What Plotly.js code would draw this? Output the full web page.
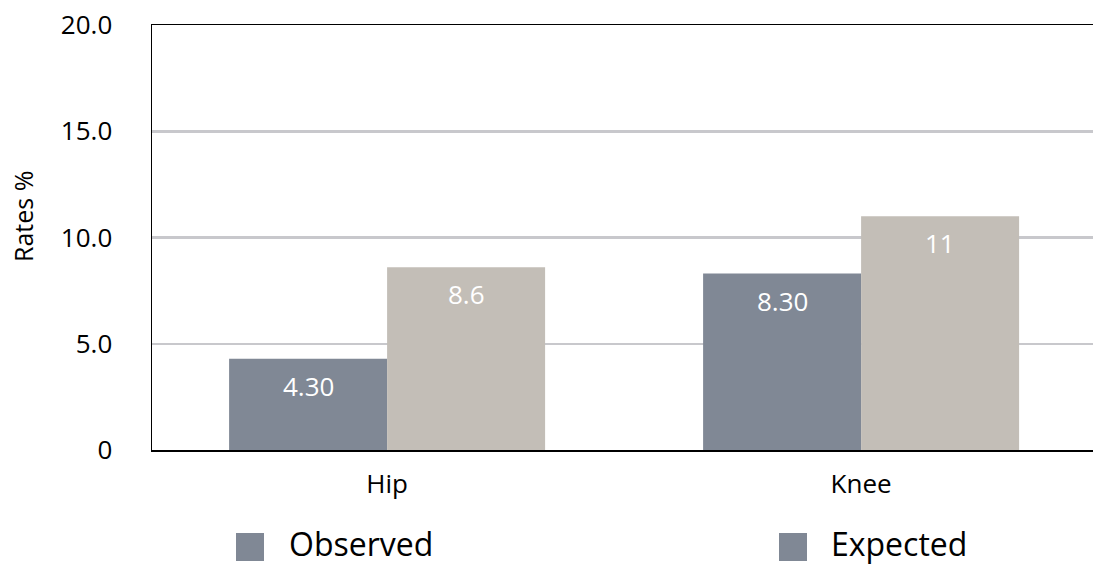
<!DOCTYPE html>
<html>
<head>
<meta charset="utf-8">
<script src="https://cdn.plot.ly/plotly-3.0.1.min.js"></script>
<style>html,body{margin:0;padding:0;background:#fff;}#chart{width:1093px;height:565px;}</style>
</head>
<body>
<div id="chart"></div>
<script>
// ---- data ----
const categories = ['Hip', 'Knee'];
const seriesNames = ['Observed', 'Expected'];
const observed = [4.30, 8.30];
const expected = [8.6, 11];
const observedLabels = ['4.30', '8.30'];
const expectedLabels = ['8.6', '11'];
const yTickVals = [0, 5, 10, 15, 20];
const yTickText = ['0', '5.0', '10.0', '15.0', '20.0'];
const yTitle = 'Rates %';

// ---- styles ----
const obsColor = '#808895';
const expColor = '#c3beb7';
const legendColor = '#808895';
const FONT = '"Open Sans", "Noto Sans", sans-serif';
const W = 1093, H = 565;
const M = {l: 152, r: 0, t: 25, b: 115};
const pw = W - M.l - M.r, ph = H - M.t - M.b;
const toPX = X => (X - M.l) / pw;
const toPY = Y => (H - M.b - Y) / ph;

const traces = [
  {type: 'bar', name: seriesNames[0], x: categories, y: observed,
   marker: {color: obsColor, line: {width: 0}}, showlegend: false, hoverinfo: 'none'},
  {type: 'bar', name: seriesNames[1], x: categories, y: expected,
   marker: {color: expColor, line: {width: 0}}, showlegend: false, hoverinfo: 'none'}
];

const annotations = [];
const barOffset = 1 / 6;
[[observed, observedLabels, -barOffset], [expected, expectedLabels, barOffset]].forEach(([vals, labs, off]) => {
  vals.forEach((v, i) => {
    annotations.push({x: i + off, y: v, xref: 'x', yref: 'y', text: labs[i], showarrow: false,
      yanchor: 'middle', xanchor: 'center', yshift: -27,
      font: {family: FONT, size: 26, color: '#ffffff'}});
  });
});

// y-axis title
annotations.push({xref: 'paper', yref: 'paper', x: toPX(23), y: toPY(217), text: yTitle,
  textangle: -90, showarrow: false, xanchor: 'center', yanchor: 'middle',
  font: {family: FONT, size: 25, color: '#000000'}});

// legend (large squares like the reference)
const shapes = [];
const legendItems = [{name: seriesNames[0], sx: 236, tx: 287}, {name: seriesNames[1], sx: 779, tx: 829}];
legendItems.forEach(it => {
  shapes.push({type: 'rect', xref: 'paper', yref: 'paper',
    x0: toPX(it.sx), x1: toPX(it.sx + 28), y0: toPY(561), y1: toPY(533),
    fillcolor: legendColor, line: {width: 0}});
  annotations.push({xref: 'paper', yref: 'paper', x: toPX(it.tx), y: toPY(543),
    xanchor: 'left', yanchor: 'middle', text: it.name, showarrow: false,
    font: {family: FONT, size: 32, color: '#000000'}});
});

const layout = {
  width: W, height: H,
  margin: M,
  paper_bgcolor: '#ffffff', plot_bgcolor: '#ffffff',
  barmode: 'group', bargap: 1 / 3, bargroupgap: 0,
  showlegend: false,
  font: {family: FONT, color: '#000000'},
  xaxis: {
    type: 'category',
    range: [-0.496, -0.496 + pw / 474],
    showline: true, linecolor: '#000000', linewidth: 1.5, mirror: true,
    showgrid: false, zeroline: false,
    ticks: '', ticklabelstandoff: 10,
    tickfont: {family: FONT, size: 26, color: '#000000'}
  },
  yaxis: {
    range: [0, 20],
    tickvals: yTickVals, ticktext: yTickText,
    showline: true, linecolor: '#000000', linewidth: 1.5, mirror: false,
    showgrid: true, gridcolor: '#c8c8cc', gridwidth: 2.5,
    zeroline: false,
    ticks: '', ticklabelstandoff: 33,
    tickfont: {family: FONT, size: 26, color: '#000000'}
  },
  annotations: annotations,
  shapes: shapes
};

Plotly.newPlot('chart', traces, layout, {displayModeBar: false, staticPlot: true});
</script>
</body>
</html>
